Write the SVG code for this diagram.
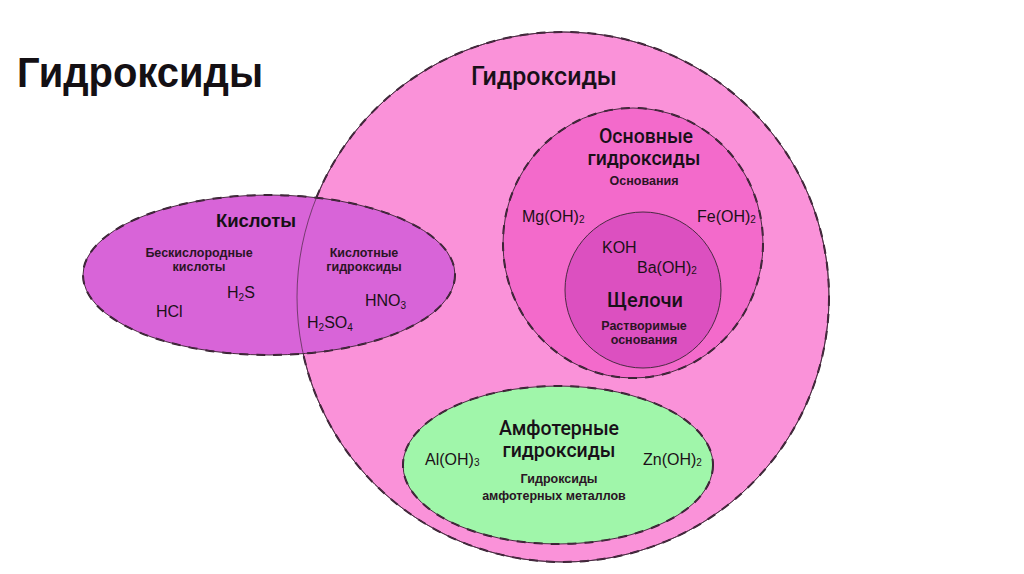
<svg xmlns="http://www.w3.org/2000/svg" width="1024" height="574" viewBox="0 0 1024 574">
<style>
.t{font-family:"Liberation Sans",Arial,sans-serif;fill:#141014}
.h{font-family:Roboto,"Liberation Sans",sans-serif;font-weight:500;fill:#181018;text-anchor:middle}
.s{font-family:"Liberation Sans",Arial,sans-serif;font-weight:bold;fill:#2a1424;text-anchor:middle;font-size:12.5px}
.f{font-family:"Liberation Sans",Arial,sans-serif;fill:#1c1018;font-size:16px}
.line{fill:none;stroke:#4a2a42;stroke-width:1}
.dash{fill:none;stroke:#2e1e2a;stroke-width:2;stroke-dasharray:9 8}
</style>
<rect width="1024" height="574" fill="#ffffff"/>
<text class="t" x="17" y="87" font-size="42" font-weight="bold" textLength="246" lengthAdjust="spacingAndGlyphs">Гидроксиды</text>

<g id="hydroxides">
<ellipse cx="563" cy="297" rx="266" ry="265" fill="#FA92D9"/>
<ellipse class="dash" cx="563" cy="297" rx="266" ry="265"/>
<ellipse class="line" cx="563" cy="297" rx="266" ry="265"/>
<text class="h" x="544" y="85" font-size="25">Гидроксиды</text>
</g>

<g id="acids">
<ellipse cx="269" cy="275" rx="186" ry="80" fill="#D864D8"/>
<ellipse class="dash" cx="269" cy="275" rx="186" ry="80"/>
<ellipse class="line" cx="269" cy="275" rx="186" ry="80"/>
<ellipse class="line" cx="563" cy="297" rx="266" ry="265" stroke-opacity="0.7"/>
<text class="t" x="256" y="227" font-size="18.5" font-weight="bold" text-anchor="middle">Кислоты</text>
<text class="s" x="199" y="257">Бескислородные</text>
<text class="s" x="199" y="271">кислоты</text>
<text class="s" x="364" y="257">Кислотные</text>
<text class="s" x="364" y="271">гидроксиды</text>
<text class="f" x="227" y="298">H<tspan font-size="10" dy="3">2</tspan><tspan dy="-3">S</tspan></text>
<text class="f" x="156" y="317">HCl</text>
<text class="f" x="365" y="306">HNO<tspan font-size="10" dy="3">3</tspan></text>
<text class="f" x="307" y="328">H<tspan font-size="10" dy="3">2</tspan><tspan dy="-3">SO</tspan><tspan font-size="10" dy="3">4</tspan></text>
</g>

<g id="basic">
<ellipse cx="633" cy="243" rx="130" ry="135" fill="#F36ACB"/>
<ellipse class="dash" cx="633" cy="243" rx="130" ry="135"/>
<ellipse class="line" cx="633" cy="243" rx="130" ry="135"/>
<text class="h" x="646" y="143" font-size="19.5">Основные</text>
<text class="h" x="644" y="165" font-size="19.5">гидроксиды</text>
<text class="s" x="644" y="185">Основания</text>
<text class="f" x="522" y="222">Mg(OH)<tspan font-size="10" dy="1">2</tspan></text>
<text class="f" x="697" y="222">Fe(OH)<tspan font-size="10" dy="1">2</tspan></text>
</g>

<g id="alkali">
<ellipse cx="643" cy="290" rx="78" ry="78" fill="#DC50C0"/>
<ellipse class="line" cx="643" cy="290" rx="78" ry="78"/>
<text class="f" x="602" y="253">KOH</text>
<text class="f" x="637" y="273">Ba(OH)<tspan font-size="10" dy="1">2</tspan></text>
<text class="h" x="645" y="307" font-size="20" font-weight="bold">Щелочи</text>
<text class="s" x="644" y="330">Растворимые</text>
<text class="s" x="644" y="344">основания</text>
</g>

<g id="amphoteric">
<ellipse cx="558" cy="465" rx="155" ry="79" fill="#A0F6AA"/>
<ellipse class="dash" cx="558" cy="465" rx="155" ry="79"/>
<ellipse class="line" cx="558" cy="465" rx="155" ry="79"/>
<text class="h" x="559" y="435" font-size="19.5">Амфотерные</text>
<text class="h" x="559" y="457" font-size="19.5">гидроксиды</text>
<text class="s" x="559" y="483">Гидроксиды</text>
<text class="s" x="554" y="500">амфотерных металлов</text>
<text class="f" x="425" y="465">Al(OH)<tspan font-size="10" dy="1">3</tspan></text>
<text class="f" x="643" y="465">Zn(OH)<tspan font-size="10" dy="1">2</tspan></text>
</g>

<g id="connectors"/>
</svg>
